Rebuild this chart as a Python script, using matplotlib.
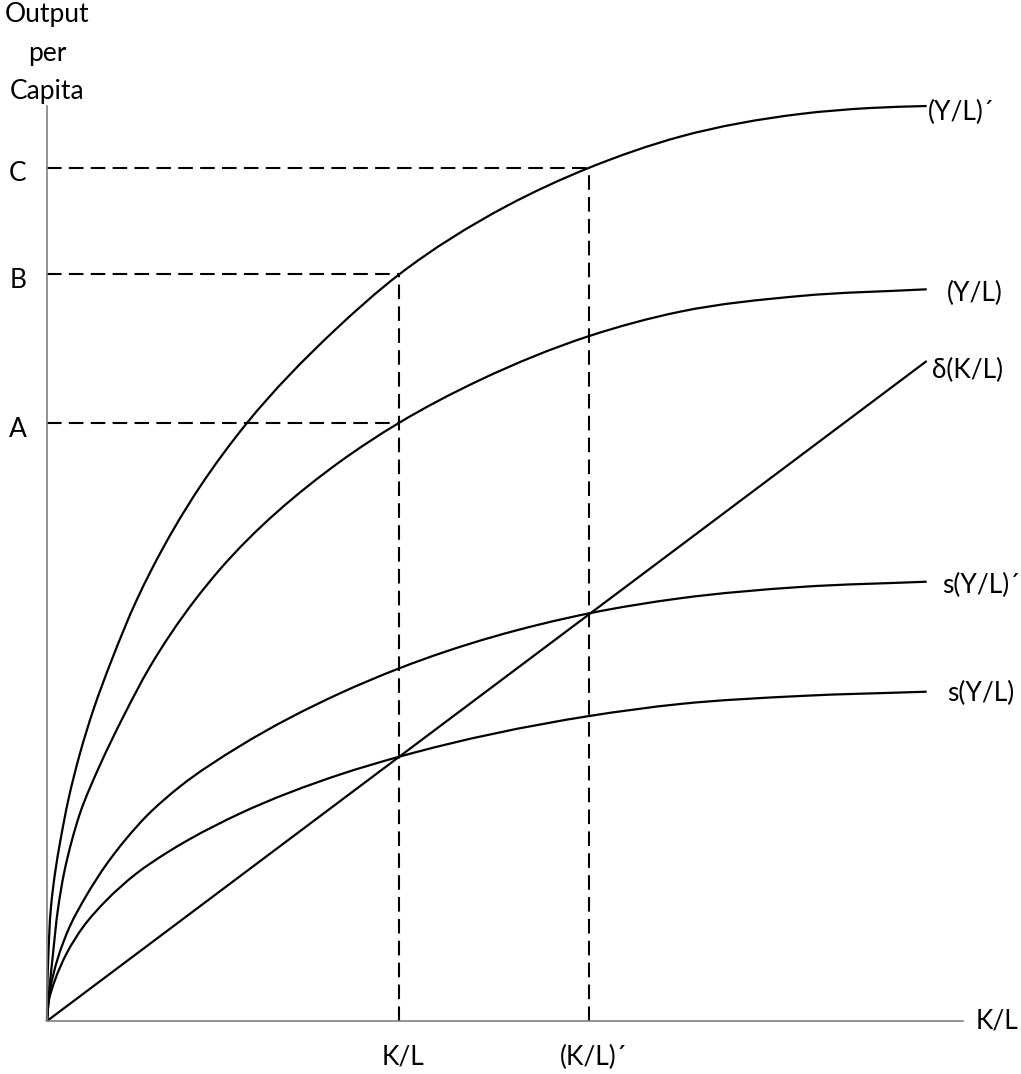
import matplotlib
matplotlib.use('Agg')
import matplotlib.pyplot as plt
from matplotlib.path import Path
from matplotlib.patches import PathPatch
import numpy as np

# points, origin of the axes at (0, 0)
# (Y/L)'  upper production function
yl2_x = [0, 0.3, 1.3, 4, 8, 13.5, 21.3, 33, 46.3, 64.7, 89.7, 104.7, 153, 199.7, 288, 352.3, 459.7, 542.3, 633, 753, 823, 879.7]
yl2_y = [0, 31, 64.3, 114.3, 147.7, 181, 221, 267.7, 311, 361, 421, 451.7, 534.3, 597.7, 691, 746.7, 815, 853.3, 884.3, 907, 913, 915]

# (Y/L)  production function
yl_x = [0, 2.3, 5.7, 11.3, 17, 25, 33, 53, 76.3, 103, 148, 173, 293, 352.3, 433, 542.3, 633, 753, 879.7]
yl_y = [0, 31, 64.3, 114.3, 147.7, 181, 207.7, 256, 304.3, 354.3, 421, 451.7, 559.3, 598.3, 641, 685, 709.3, 725, 731.7]

# s(Y/L)'  savings with higher output
syl2_x = [0, 3, 11.3, 23, 39.7, 59.7, 78, 99.7, 133, 193, 293, 352.3, 542.3, 633, 753, 879.7]
syl2_y = [0, 31, 64.3, 95, 126, 157, 180.8, 205.1, 234.5, 275, 327.7, 352.7, 407.7, 422.7, 434, 439.3]

# s(Y/L)  savings
syl_x = [0, 1.3, 8, 19.7, 36.3, 59.7, 89.7, 119.7, 143, 193, 293, 352.3, 542.3, 633, 753, 879.7]
syl_y = [0, 17.7, 41, 67.7, 94.3, 121, 147.7, 168.2, 182, 207.5, 246.5, 264.3, 305, 317, 325, 329.3]

# depreciation line delta(K/L)
dep_x = [0, 879.7]
dep_y = [0, 660]

# levels of capital per worker and output
kl_levels = [352.3, 542.3]
kl_labels = ['K/L', '(K/L)\u00b4']
out_levels = [597.7, 746.7, 853.3]
out_labels = ['A', 'B', 'C']
out_reach = [352.3, 352.3, 542.3]


def smooth_curve(ax, xs, ys, **kw):
    """
    draws the read points as one bezier path going through every point,
    tangent at a point weighted towards its nearer neighbour
    """
    p = np.column_stack([xs, ys]).astype(float)
    n = len(p)
    seg = np.diff(p, axis=0)
    d = np.hypot(seg[:, 0], seg[:, 1])
    u = seg / d[:, None]
    tang = np.zeros_like(p)
    tang[0] = u[0]
    tang[-1] = u[-1]
    for i in range(1, n - 1):
        t = d[i] * u[i - 1] + d[i - 1] * u[i]
        tang[i] = t / np.hypot(*t)
    verts = [tuple(p[0])]
    codes = [Path.MOVETO]
    for i in range(n - 1):
        c1 = p[i] + tang[i] * d[i] / 3
        c2 = p[i + 1] - tang[i + 1] * d[i] / 3
        verts += [tuple(c1), tuple(c2), tuple(p[i + 1])]
        codes += [Path.CURVE4] * 3
    patch = PathPatch(Path(verts, codes), facecolor='none', **kw)
    ax.add_patch(patch)
    return patch


FONT = ['Lato', 'DejaVu Sans']
plt.rcParams['font.family'] = FONT

W, H = 1021, 1074
fig = plt.figure(figsize=(W / 100, H / 100), dpi=100)
ax = fig.add_axes([47 / W, (H - 1021) / H, (963 - 47) / W, (1021 - 106) / H])
ax.set_xlim(0, 916)
ax.set_ylim(0, 915)
ax.set_xticks([])
ax.set_yticks([])
for side in ['top', 'right']:
    ax.spines[side].set_visible(False)
for side in ['left', 'bottom']:
    ax.spines[side].set_color('#808080')
    ax.spines[side].set_linewidth(1.2)

dash = (0, (7, 3.5))
# horizontal dashed guides from the output axis
for lvl, reach in zip(out_levels, out_reach):
    ax.plot([0, reach], [lvl, lvl], color='black', lw=1.5, linestyle=dash, clip_on=False)
# vertical dashed guides up to the output levels
for k, top in zip(kl_levels, [out_levels[1], out_levels[2]]):
    ax.plot([k, k], [0, top], color='black', lw=1.5, linestyle=dash, clip_on=False)

curve_style = dict(edgecolor='black', lw=1.6, clip_on=False, capstyle='butt')
smooth_curve(ax, yl2_x, yl2_y, **curve_style)
smooth_curve(ax, yl_x, yl_y, **curve_style)
smooth_curve(ax, syl2_x, syl2_y, **curve_style)
smooth_curve(ax, syl_x, syl_y, **curve_style)
ax.plot(dep_x, dep_y, color='black', lw=1.6, clip_on=False, solid_capstyle='butt')

fs = 19
# curve labels at the right end
ax.text(881, 909, '(Y/L)\u00b4', fontsize=fs, ha='left', va='center')
ax.text(899.7, 728, '(Y/L)', fontsize=fs, ha='left', va='center')
ax.text(884.7, 651, '\u03b4(K/L)', fontsize=fs, ha='left', va='center')
ax.text(894.7, 436, 's(Y/L)\u00b4', fontsize=fs, ha='left', va='center')
ax.text(899.7, 328, 's(Y/L)', fontsize=fs, ha='left', va='center')

# level labels on the axes
for lvl, lab in zip(out_levels, out_labels):
    ax.text(-29, lvl - 6, lab, fontsize=fs, ha='center', va='center')
for k, lab in zip(kl_levels, kl_labels):
    ax.text(k + 4, -36, lab, fontsize=fs, ha='center', va='center')

ax.text(971, 0, 'K/L', fontsize=fs, ha='right', va='center')
ax.text(0, 1021 - 53, 'Output\nper\nCapita', fontsize=fs, ha='center', va='center',
        multialignment='center', linespacing=1.68)

fig.savefig('out.png', dpi=100)
